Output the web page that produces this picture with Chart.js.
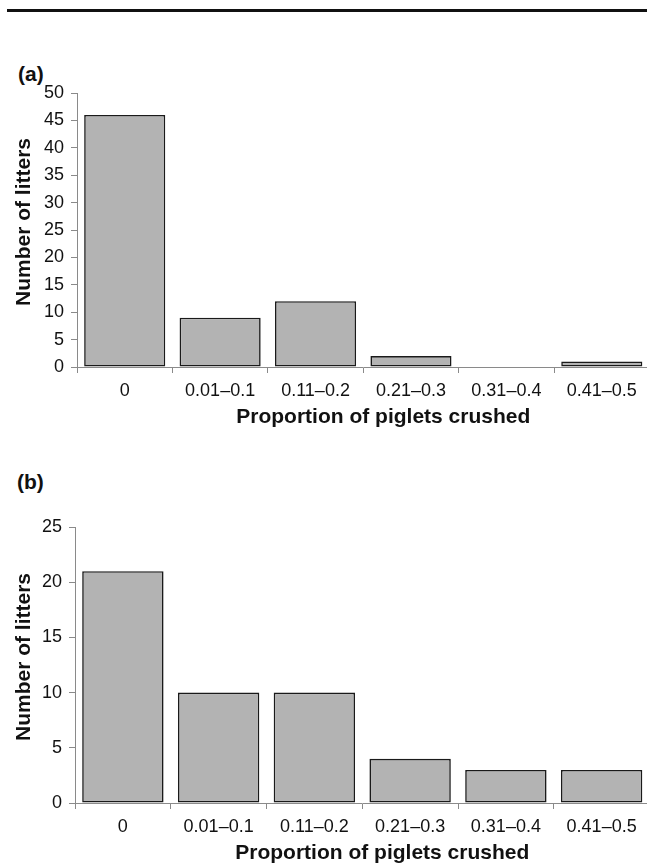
<!DOCTYPE html>
<html>
<head>
<meta charset="utf-8">
<script src="https://cdn.jsdelivr.net/npm/chart.js@4"></script>
<style>
  html, body { margin: 0; padding: 0; background: #fff; overflow: hidden; }
  body { width: 647px; height: 868px; position: relative; font-family: "Liberation Sans", Arial, sans-serif; }
  .rule { position: absolute; left: 7px; top: 9px; width: 640px; height: 3px; background: #111; }
  .panel { position: absolute; font-weight: bold; font-size: 21px; line-height: 24px; color: #111; }
  canvas { position: absolute; left: 0; }
</style>
</head>
<body>
<div class="rule"></div>
<div class="panel" style="left:18px; top:62px;">(a)</div>
<div class="panel" style="left:17px; top:470px;">(b)</div>
<canvas id="chartA" width="655" height="380" style="top:60px"></canvas>
<canvas id="chartB" width="655" height="400" style="top:480px"></canvas>
<script>
// data
const categories = ["0", "0.01–0.1", "0.11–0.2", "0.21–0.3", "0.31–0.4", "0.41–0.5"];
const littersA = [46, 9, 12, 2, 0, 1];
const littersB = [21, 10, 10, 4, 3, 3];
const yMaxA = 50;
const yMaxB = 25;
const yStep = 5;
const xTitle = "Proportion of piglets crushed";
const yTitle = "Number of litters";

const FONT = '"Liberation Sans", Arial, sans-serif';
const AXIS_GREY = "#8a8a8a";

// axis titles drawn off-centre like the original
const axisText = {
  id: "axisText",
  afterDraw(chart) {
    const { ctx, chartArea } = chart;
    ctx.save();
    ctx.fillStyle = "#111";
    ctx.font = "bold 21px " + FONT;
    ctx.textAlign = "center";
    ctx.textBaseline = "middle";
    ctx.fillText(xTitle, (chartArea.left + chartArea.right) / 2 + 20, chartArea.bottom + 50);
    ctx.translate(24, (chartArea.top + chartArea.bottom) / 2 - 8);
    ctx.rotate(-Math.PI / 2);
    ctx.fillText(yTitle, 0, 0);
    ctx.restore();
  },
};

function makeChart(id, values, yMax, padTop, yWidth, xHeight) {
  return new Chart(document.getElementById(id), {
    type: "bar",
    data: {
      labels: categories,
      datasets: [
        {
          data: values,
          backgroundColor: "#b3b3b3",
          borderColor: "#1a1a1a",
          borderWidth: (c) => (c.raw === 0 ? 0 : 1.6),
          borderSkipped: false,
          barPercentage: 0.85,
          categoryPercentage: 1,
        },
      ],
    },
    options: {
      responsive: false,
      animation: false,
      layout: { padding: { top: padTop, right: 5.5, left: 0, bottom: 0 } },
      plugins: { legend: { display: false }, tooltip: { enabled: false } },
      scales: {
        x: {
          grid: { drawOnChartArea: false, tickLength: 6, color: AXIS_GREY, offset: true },
          border: { color: AXIS_GREY, width: 1 },
          ticks: { color: "#111", font: { family: FONT, size: 18 }, padding: 7, maxRotation: 0, autoSkip: false },
          afterFit: (s) => { s.height = xHeight; },
        },
        y: {
          min: 0,
          max: yMax,
          grid: { drawOnChartArea: false, tickLength: 6, color: AXIS_GREY },
          border: { color: AXIS_GREY, width: 1 },
          ticks: { stepSize: yStep, color: "#111", font: { family: FONT, size: 18 }, padding: 7 },
          afterFit: (s) => { s.width = yWidth; },
        },
      },
    },
    plugins: [axisText],
  });
}

makeChart("chartA", littersA, yMaxA, 33, 77, 73);
makeChart("chartB", littersB, yMaxB, 47, 75, 77);
</script>
</body>
</html>
